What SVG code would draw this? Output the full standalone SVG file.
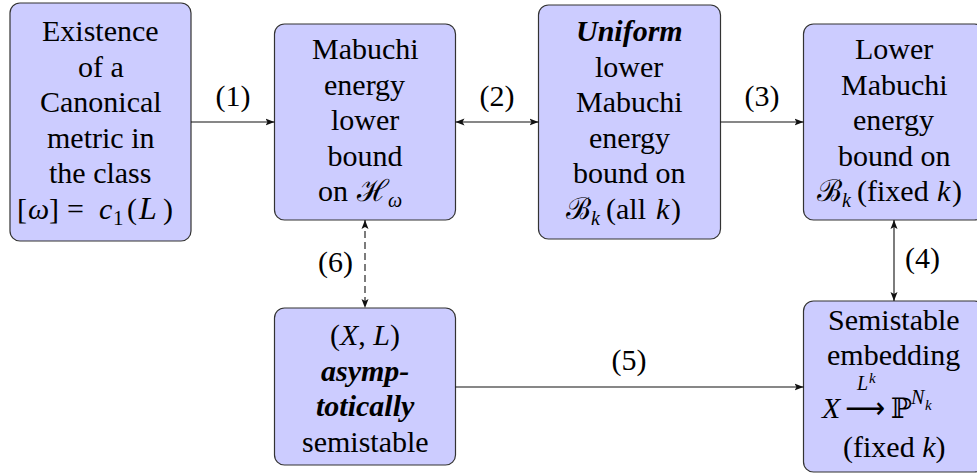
<svg xmlns="http://www.w3.org/2000/svg" width="977" height="475" viewBox="0 0 977 475" font-family="Liberation Serif, Tinos, Nimbus Roman, serif">
<defs>
<marker id="ah" markerWidth="10" markerHeight="8" refX="9" refY="4" orient="auto-start-reverse" markerUnits="userSpaceOnUse">
<path d="M0,0.5 L9,4 L0,7.5 L2,4 z" fill="#111"/>
</marker>
</defs>

<g id="n1">
<rect fill="#CCCCFF" stroke="#333" stroke-width="1.2" x="10" y="3" width="181" height="238" rx="10"/>
<text x="42" y="41" font-size="30" font-family="Liberation Serif, Tinos, serif">Existence</text>
<text x="78" y="76.5" font-size="30" font-family="Liberation Serif, Tinos, serif">of a</text>
<text x="40" y="112" font-size="30" font-family="Liberation Serif, Tinos, serif">Canonical</text>
<text x="47" y="147.5" font-size="30" font-family="Liberation Serif, Tinos, serif">metric in</text>
<text x="49" y="183" font-size="30" font-family="Liberation Serif, Tinos, serif">the class</text>
<text x="17" y="218.5" font-size="30" font-family="Liberation Serif, Tinos, serif">[</text>
<text x="28" y="218.5" font-size="30" font-family="Liberation Serif, Tinos, serif" font-style="italic">ω</text>
<text x="49" y="218.5" font-size="30" font-family="Liberation Serif, Tinos, serif">]</text>
<text x="67" y="218.5" font-size="30" font-family="Liberation Serif, Tinos, serif">=</text>
<text x="99" y="218.5" font-size="30" font-family="Liberation Serif, Tinos, serif" font-style="italic">c</text>
<text x="113" y="224.5" font-size="21" font-family="Liberation Serif, Tinos, serif">1</text>
<text x="127" y="218.5" font-size="30" font-family="Liberation Serif, Tinos, serif">(</text>
<text x="139" y="218.5" font-size="32" font-family="Liberation Serif, Tinos, serif" font-style="italic">L</text>
<text x="163" y="218.5" font-size="30" font-family="Liberation Serif, Tinos, serif">)</text>
</g>

<g id="n2">
<rect fill="#CCCCFF" stroke="#333" stroke-width="1.2" x="274.5" y="24" width="181" height="196" rx="10"/>
<text x="312" y="59" font-size="30" font-family="Liberation Serif, Tinos, serif">Mabuchi</text>
<text x="324" y="94.5" font-size="30" font-family="Liberation Serif, Tinos, serif">energy</text>
<text x="331" y="130" font-size="30" font-family="Liberation Serif, Tinos, serif">lower</text>
<text x="327.5" y="165.5" font-size="30" font-family="Liberation Serif, Tinos, serif">bound</text>
<text x="318" y="201" font-size="30" font-family="Liberation Serif, Tinos, serif">on</text>
<text x="357" y="201" font-size="30" font-family="DejaVu Serif">ℋ</text>
<text x="388" y="207" font-size="20" font-family="Liberation Serif, Tinos, serif" font-style="italic">ω</text>
</g>

<g id="n3">
<rect fill="#CCCCFF" stroke="#333" stroke-width="1.2" x="538.5" y="5" width="182" height="234" rx="10"/>
<text x="576" y="41" font-size="30" font-family="Liberation Serif, Tinos, serif" font-weight="bold" font-style="italic">Uniform</text>
<text x="595" y="76.5" font-size="30" font-family="Liberation Serif, Tinos, serif">lower</text>
<text x="576" y="112" font-size="30" font-family="Liberation Serif, Tinos, serif">Mabuchi</text>
<text x="589" y="147.5" font-size="30" font-family="Liberation Serif, Tinos, serif">energy</text>
<text x="573" y="183" font-size="30" font-family="Liberation Serif, Tinos, serif">bound on</text>
<text x="566" y="218.5" font-size="30" font-family="DejaVu Serif">ℬ</text>
<text x="591" y="224.5" font-size="20" font-family="Liberation Serif, Tinos, serif" font-style="italic">k</text>
<text x="606" y="218.5" font-size="30" font-family="Liberation Serif, Tinos, serif">(all</text>
<text x="656" y="218.5" font-size="30" font-family="Liberation Serif, Tinos, serif" font-style="italic">k</text>
<text x="671" y="218.5" font-size="30" font-family="Liberation Serif, Tinos, serif">)</text>
</g>

<g id="n4">
<rect fill="#CCCCFF" stroke="#333" stroke-width="1.2" x="803.5" y="24" width="181" height="196" rx="10"/>
<text x="855" y="59" font-size="30" font-family="Liberation Serif, Tinos, serif">Lower</text>
<text x="841" y="94.5" font-size="30" font-family="Liberation Serif, Tinos, serif">Mabuchi</text>
<text x="853" y="130" font-size="30" font-family="Liberation Serif, Tinos, serif">energy</text>
<text x="838" y="165.5" font-size="30" font-family="Liberation Serif, Tinos, serif">bound on</text>
<text x="817" y="201" font-size="30" font-family="DejaVu Serif">ℬ</text>
<text x="842" y="207" font-size="20" font-family="Liberation Serif, Tinos, serif" font-style="italic">k</text>
<text x="857" y="201" font-size="30" font-family="Liberation Serif, Tinos, serif">(fixed</text>
<text x="937" y="201" font-size="30" font-family="Liberation Serif, Tinos, serif" font-style="italic">k</text>
<text x="952" y="201" font-size="30" font-family="Liberation Serif, Tinos, serif">)</text>
</g>

<g id="n5">
<rect fill="#CCCCFF" stroke="#333" stroke-width="1.2" x="274.5" y="308" width="181" height="157" rx="10"/>
<text x="330" y="345" font-size="30" font-family="Liberation Serif, Tinos, serif">(<tspan font-style="italic">X</tspan>, <tspan font-style="italic">L</tspan>)</text>
<text x="321" y="381" font-size="30" font-family="Liberation Serif, Tinos, serif" font-weight="bold" font-style="italic">asymp-</text>
<text x="316" y="416" font-size="30" font-family="Liberation Serif, Tinos, serif" font-weight="bold" font-style="italic">totically</text>
<text x="302" y="452" font-size="30" font-family="Liberation Serif, Tinos, serif">semistable</text>
</g>

<g id="n6">
<rect fill="#CCCCFF" stroke="#333" stroke-width="1.2" x="803.5" y="301" width="181" height="171" rx="10"/>
<text x="828" y="330" font-size="30" font-family="Liberation Serif, Tinos, serif">Semistable</text>
<text x="827" y="365" font-size="30" font-family="Liberation Serif, Tinos, serif">embedding</text>
<text x="822" y="418" font-size="30" font-family="Liberation Serif, Tinos, serif" font-style="italic">X</text>
<text x="845" y="418" font-size="30" font-family="DejaVu Sans" textLength="40" lengthAdjust="spacingAndGlyphs">⟶</text>
<text x="857" y="390" font-size="20" font-family="Liberation Serif, Tinos, serif" font-style="italic">L</text>
<text x="869" y="383" font-size="15" font-family="Liberation Serif, Tinos, serif" font-style="italic">k</text>
<text x="891" y="418" font-size="28" font-family="DejaVu Serif">ℙ</text>
<text x="911" y="404" font-size="20" font-family="Liberation Serif, Tinos, serif" font-style="italic">N</text>
<text x="925" y="410" font-size="15" font-family="Liberation Serif, Tinos, serif" font-style="italic">k</text>
<text x="843" y="457" font-size="30" font-family="Liberation Serif, Tinos, serif">(fixed <tspan font-style="italic">k</tspan>)</text>
</g>

<g id="edges" stroke="#111" stroke-width="1.1" fill="none">
<line x1="191" y1="122" x2="274.5" y2="122" marker-end="url(#ah)"/>
<line x1="455.5" y1="122" x2="538.5" y2="122" marker-start="url(#ah)" marker-end="url(#ah)"/>
<line x1="720.5" y1="122" x2="803.5" y2="122" marker-end="url(#ah)"/>
<line x1="894" y1="220" x2="894" y2="301" marker-start="url(#ah)" marker-end="url(#ah)"/>
<line x1="455.5" y1="387" x2="803.5" y2="387" marker-end="url(#ah)"/>
<line stroke-dasharray="7 4" x1="365" y1="220" x2="365" y2="308" marker-start="url(#ah)" marker-end="url(#ah)"/>
<text stroke="none" fill="#000" x="215.5" y="106" font-size="30" font-family="Liberation Serif, Tinos, serif">(1)</text>
<text stroke="none" fill="#000" x="479.5" y="106" font-size="30" font-family="Liberation Serif, Tinos, serif">(2)</text>
<text stroke="none" fill="#000" x="744.5" y="106" font-size="30" font-family="Liberation Serif, Tinos, serif">(3)</text>
<text stroke="none" fill="#000" x="905" y="268" font-size="30" font-family="Liberation Serif, Tinos, serif">(4)</text>
<text stroke="none" fill="#000" x="611.5" y="370" font-size="30" font-family="Liberation Serif, Tinos, serif">(5)</text>
<text stroke="none" fill="#000" x="318" y="272" font-size="30" font-family="Liberation Serif, Tinos, serif">(6)</text>
</g>
</svg>
